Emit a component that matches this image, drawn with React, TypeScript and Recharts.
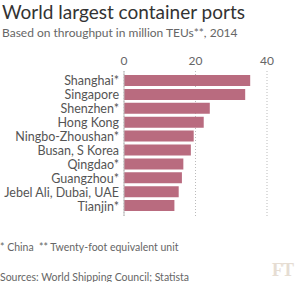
import React from "react";
import { BarChart, Bar, XAxis, YAxis, CartesianGrid } from "recharts";

const ports = [
  "Shanghai*",
  "Singapore",
  "Shenzhen*",
  "Hong Kong",
  "Ningbo-Zhoushan*",
  "Busan, S Korea",
  "Qingdao*",
  "Guangzhou*",
  "Jebel Ali, Dubai, UAE",
  "Tianjin*",
];
const teus = [35.3, 33.9, 24.0, 22.3, 19.5, 18.7, 16.6, 16.2, 15.3, 14.1];
const xTicks = [0, 20, 40];

const data = ports.map((p, i) => ({ port: p, value: teus[i] }));

const FONT = "Lato, 'Open Sans', sans-serif";

const PortTick = (props: any) => {
  const { x, y, payload } = props;
  return (
    <text
      x={x}
      y={y}
      dy={4.5}
      textAnchor="end"
      fill="#555555"
      fontSize={12.5}
      fontFamily={FONT}
    >
      {payload.value}
    </text>
  );
};

export default function App() {
  return (
    <div
      style={{
        position: "absolute",
        left: 0,
        top: 0,
        width: 300,
        height: 282,
        background: "#ffffff",
        fontFamily: FONT,
        overflow: "hidden",
      }}
    >
      <div
        style={{
          position: "absolute",
          left: 2,
          top: 0,
          fontSize: 19,
          color: "#333333",
          whiteSpace: "nowrap",
        }}
      >
        World largest container ports
      </div>
      <div
        style={{
          position: "absolute",
          left: 2,
          top: 25,
          fontSize: 12,
          color: "#666666",
          whiteSpace: "nowrap",
        }}
      >
        Based on throughput in million TEUs**, 2014
      </div>
      <div style={{ position: "absolute", left: 0, top: 0 }}>
        <BarChart
          width={300}
          height={282}
          data={data}
          layout="vertical"
          margin={{ top: 51, right: 33, bottom: 66, left: 0 }}
          barSize={11}
        >
          <CartesianGrid
            horizontal={false}
            vertical={true}
            stroke="#bbbbbb"
            strokeDasharray="1 2"
          />
          <XAxis
            type="number"
            orientation="top"
            domain={[0, 40]}
            ticks={xTicks}
            height={20}
            axisLine={false}
            tickLine={false}
            tickSize={0}
            tickMargin={6}
            tick={{ fill: "#666666", fontSize: 12, fontFamily: FONT }}
          />
          <YAxis
            type="category"
            dataKey="port"
            width={124}
            padding={{ top: 3, bottom: 3 }}
            axisLine={{ stroke: "#bbbbbb" }}
            tickLine={false}
            tickSize={0}
            tickMargin={5}
            interval={0}
            tick={<PortTick />}
          />
          <Bar dataKey="value" fill="#b96b7f" isAnimationActive={false} />
        </BarChart>
      </div>
      <div
        style={{
          position: "absolute",
          left: 0,
          top: 241,
          fontSize: 10.5,
          color: "#666666",
          whiteSpace: "pre",
        }}
      >
        {"* China  ** Twenty-foot equivalent unit"}
      </div>
      <div
        style={{
          position: "absolute",
          left: 0,
          top: 271,
          fontSize: 10.5,
          color: "#666666",
          whiteSpace: "nowrap",
        }}
      >
        Sources: World Shipping Council; Statista
      </div>
      <div
        style={{
          position: "absolute",
          left: 272,
          top: 260,
          fontSize: 18,
          fontWeight: "bold",
          fontFamily: "'Liberation Serif', 'DejaVu Serif', serif",
          color: "#e6ddd3",
          letterSpacing: -1,
          whiteSpace: "nowrap",
        }}
      >
        FT
      </div>
    </div>
  );
}
